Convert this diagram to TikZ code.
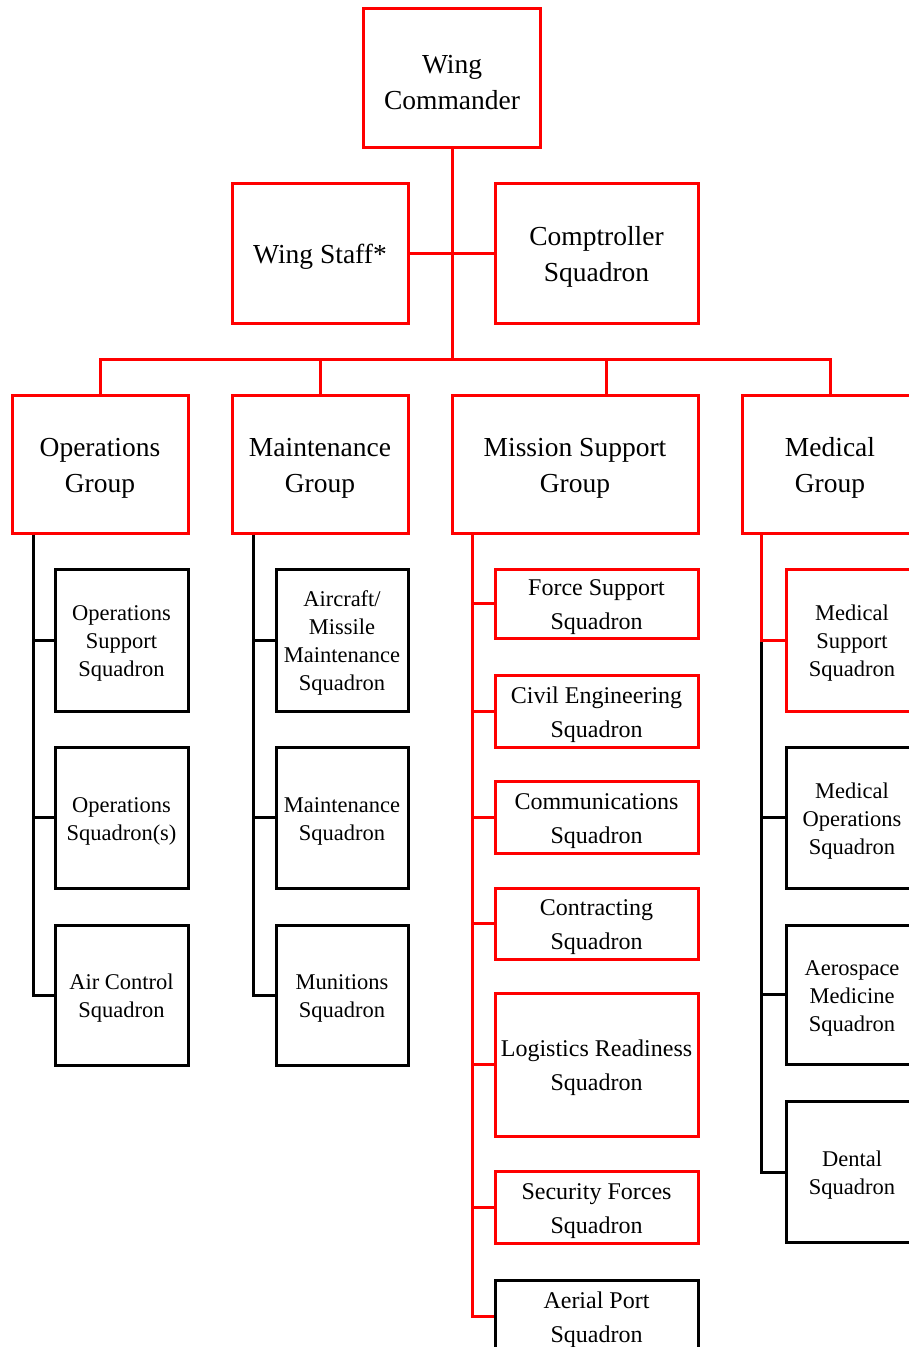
\documentclass[tikz,border=0pt]{standalone}
\usepackage{fontspec}
\setmainfont{Liberation Serif}
\usetikzlibrary{calc}
\definecolor{orgred}{RGB}{255,0,0}
% a tall invisible rule on the first line sets the text a little lower in its box
\newcommand\lft{\rule{0pt}{1em}}
\tikzset{
  box/.style={draw, line width=3pt, align=center, inner sep=0pt, fill=white},
  redbox/.style={box, draw=orgred},
  blackbox/.style={box, draw=black},
  big/.style={font=\fontsize{27.5}{36}\selectfont},
  mid/.style={font=\fontsize{24}{34}\selectfont},
  small/.style={font=\fontsize{22.5}{28}\selectfont},
  redline/.style={draw=orgred, line width=3pt},
  blackline/.style={draw=black, line width=3pt},
}
\begin{document}
\begin{tikzpicture}[x=1pt,y=-1pt]
\clip (0,0) rectangle (909,1347);
\fill[white] (0,0) rectangle (909,1347);

% command level
\node[redbox, big, minimum width=177, minimum height=139] (wc) at (452,78) {\lft Wing\\Commander};
\node[redbox, big, minimum width=176, minimum height=140] (ws) at (320,253) {\lft Wing Staff*};
\node[redbox, big, minimum width=203, minimum height=140] (cs) at (596.5,253) {\lft Comptroller\\Squadron};

% groups
\node[redbox, big, minimum width=176, minimum height=138] (ops) at (100,464) {\lft Operations\\Group};
\node[redbox, big, minimum width=176, minimum height=138] (mnt) at (320,464) {\lft Maintenance\\Group};
\node[redbox, big, minimum width=246, minimum height=138] (msg) at (575,464) {\lft Mission Support\\Group};
\node[redbox, big, minimum width=176, minimum height=138] (med) at (830,464) {\lft Medical\\Group};

% operations squadrons
\node[blackbox, small, minimum width=133, minimum height=142] (oss) at (121.5,640) {\lft Operations\\Support\\Squadron};
\node[blackbox, small, minimum width=133, minimum height=141] (osq) at (121.5,817.5) {\lft Operations\\Squadron(s)};
\node[blackbox, small, minimum width=133, minimum height=140] (acs) at (121.5,995) {\lft Air Control\\Squadron};

% maintenance squadrons
\node[blackbox, small, minimum width=132, minimum height=142] (amx) at (342,640) {\lft Aircraft/\\Missile\\Maintenance\\Squadron};
\node[blackbox, small, minimum width=132, minimum height=141] (mxs) at (342,817.5) {\lft Maintenance\\Squadron};
\node[blackbox, small, minimum width=132, minimum height=140] (mun) at (342,995) {\lft Munitions\\Squadron};

% mission support squadrons
\node[redbox, mid, minimum width=203, minimum height=69] (fss) at (596.5,603.5) {\lft Force Support\\Squadron};
\node[redbox, mid, minimum width=203, minimum height=72] (ces) at (596.5,711) {\lft Civil Engineering\\Squadron};
\node[redbox, mid, minimum width=203, minimum height=72] (cms) at (596.5,817) {\lft Communications\\Squadron};
\node[redbox, mid, minimum width=203, minimum height=71] (cos) at (596.5,923.5) {\lft Contracting\\Squadron};
\node[redbox, mid, minimum width=203, minimum height=143] (lrs) at (596.5,1064.5) {\lft Logistics Readiness\\Squadron};
\node[redbox, mid, minimum width=203, minimum height=72] (sfs) at (596.5,1207) {\lft Security Forces\\Squadron};
\node[blackbox, mid, minimum width=203, minimum height=72] (aps) at (596.5,1316) {\lft Aerial Port\\Squadron};

% medical squadrons
\node[redbox, small, minimum width=132, minimum height=142] (mss) at (852,640) {\lft Medical\\Support\\Squadron};
\node[blackbox, small, minimum width=132, minimum height=141] (mos) at (852,817.5) {\lft Medical\\Operations\\Squadron};
\node[blackbox, small, minimum width=132, minimum height=139] (ams) at (852,994.5) {\lft Aerospace\\Medicine\\Squadron};
\node[blackbox, small, minimum width=132, minimum height=141] (dns) at (852,1172) {\lft Dental\\Squadron};

% command connectors
\coordinate (bus) at (452,359);
\coordinate (msgtop) at (606,395);
\draw[redline] (wc.south) -- (bus);
\draw[redline] (ws.east) -- (cs.west);
\draw[redline] (ops.north) -- (ops.north |- bus) -- (med.north |- bus) -- (med.north);
\draw[redline] (mnt.north) -- (mnt.north |- bus);
\draw[redline] (msgtop) -- (msgtop |- bus);

% group trunks
\coordinate (opsT) at ($(ops.south west)+(23,0)$);
\coordinate (mntT) at ($(mnt.south west)+(23,0)$);
\coordinate (msgT) at ($(msg.south west)+(22,0)$);
\coordinate (medT) at ($(med.south west)+(21,0)$);

\draw[blackline] (opsT) |- (acs.west);
\draw[blackline] (opsT |- oss.west) -- (oss.west);
\draw[blackline] (opsT |- osq.west) -- (osq.west);

\draw[blackline] (mntT) |- (mun.west);
\draw[blackline] (mntT |- amx.west) -- (amx.west);
\draw[blackline] (mntT |- mxs.west) -- (mxs.west);

\draw[redline] (msgT) |- (aps.west);
\foreach \n in {fss,ces,cms,cos,lrs,sfs}
  \draw[redline] (msgT |- \n.west) -- (\n.west);

\draw[blackline] (medT |- mss.west) |- (dns.west);
\draw[blackline] (medT |- mos.west) -- (mos.west);
\draw[blackline] (medT |- ams.west) -- (ams.west);
\draw[redline] (medT) |- (mss.west);
\end{tikzpicture}
\end{document}
